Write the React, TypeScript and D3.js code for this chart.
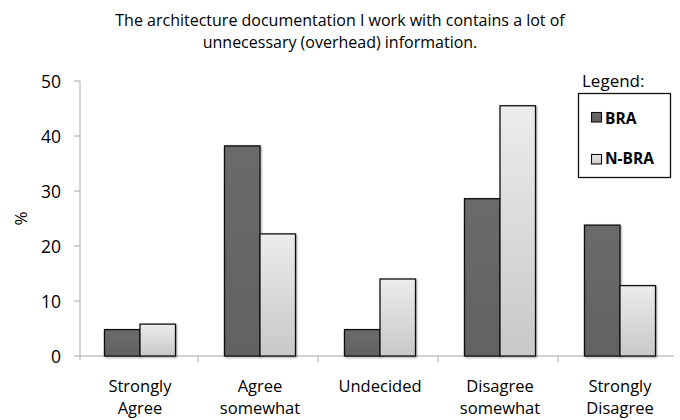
import React from "react";
import * as d3 from "d3";

const categories = [["Strongly", "Agree"], ["Agree", "somewhat"], ["Undecided"], ["Disagree", "somewhat"], ["Strongly", "Disagree"]];
const seriesNames = ["BRA", "N-BRA"];
const braValues = [4.8, 38.2, 4.8, 28.6, 23.8];
const nbraValues = [5.8, 22.2, 14.0, 45.5, 12.8];
const yTicks = [0, 10, 20, 30, 40, 50];
const titleLines = ["The architecture documentation I work with contains a lot of", "unnecessary (overhead) information."];

const FONT = "'Open Sans', 'Noto Sans', sans-serif";

export default function App() {
  const W = 680, H = 420;
  const left = 80, right = 680, top = 81, bottom = 356;
  const x = d3.scaleBand<number>().domain(d3.range(categories.length)).range([left, right]);
  const inner = d3.scaleBand<number>().domain([0, 1]).range([0, x.bandwidth()]).paddingOuter(0.69).paddingInner(0);
  const y = d3.scaleLinear().domain([0, 50]).range([bottom, top]);
  const series = [braValues, nbraValues];
  const fills = ["url(#darkGrad)", "url(#lightGrad)"];

  return (
    <svg width={W} height={H} style={{ position: "absolute", left: 0, top: 0, background: "#fff" }} fontFamily={FONT}>
      <defs>
        <linearGradient id="darkGrad" x1="0" y1="0" x2="0" y2="1">
          <stop offset="0" stopColor="#6a6a6a" />
          <stop offset="1" stopColor="#626262" />
        </linearGradient>
        <linearGradient id="lightGrad" x1="0" y1="0" x2="0" y2="1">
          <stop offset="0" stopColor="#ececec" />
          <stop offset="1" stopColor="#c8c8c8" />
        </linearGradient>
        <filter id="shadow" x="-20%" y="-20%" width="140%" height="140%">
          <feDropShadow dx="1" dy="1" stdDeviation="0.8" floodColor="#000" floodOpacity="0.35" />
        </filter>
      </defs>
      {titleLines.map((t, i) => (
        <text key={i} x={340} y={26 + i * 22} textAnchor="middle" fontSize={16} fill="#000">{t}</text>
      ))}
      {/* y axis */}
      <line x1={left} x2={left} y1={top} y2={bottom + 4} stroke="#aaa" strokeWidth={1} />
      {yTicks.map((t) => (
        <g key={t}>
          <line x1={left - 6} x2={left} y1={y(t)} y2={y(t)} stroke="#aaa" />
          <text x={61} y={y(t) + 6.5} textAnchor="end" fontSize={17.5} fill="#000">{t}</text>
        </g>
      ))}
      <text transform={`translate(27,${(top + bottom) / 2}) rotate(-90)`} textAnchor="middle" fontSize={17} fill="#000">%</text>
      {/* x axis */}
      <line x1={left} x2={right - 6} y1={bottom} y2={bottom} stroke="#aaa" />
      {d3.range(1, categories.length).map((i) => (
        <line key={i} x1={x(i)! - 2} x2={x(i)! - 2} y1={bottom} y2={bottom + 6} stroke="#aaa" />
      ))}
      {/* bars */}
      {series.map((vals, s) =>
        vals.map((v, i) => (
          <rect key={`${s}-${i}`} x={x(i)! + inner(s)!} y={y(v)} width={inner.bandwidth()} height={y(0) - y(v)}
            fill={fills[s]} stroke="#111" strokeWidth={1.3} filter="url(#shadow)" />
        ))
      )}
      {/* category labels */}
      {categories.map((lines, i) => (
        <text key={i} textAnchor="middle" fontSize={16.5} fill="#000">
          {lines.map((l, j) => (
            <tspan key={j} x={x(i)! + x.bandwidth() / 2} y={392 + j * 22}>{l}</tspan>
          ))}
        </text>
      ))}
      {/* legend */}
      <text x={582} y={87} fontSize={17} fill="#000">Legend:</text>
      <rect x={578.5} y={93.5} width={92} height={84} fill="#fff" stroke="#111" strokeWidth={1.3} />
      {seriesNames.map((n, s) => (
        <g key={n}>
          <rect x={591.5} y={112.5 + s * 42} width={10} height={9.5} fill={fills[s]} stroke="#111" strokeWidth={1.1} />
          <text x={605} y={124 + s * 40} fontSize={15.5} fontWeight="bold" fill="#000">{n}</text>
        </g>
      ))}
    </svg>
  );
}
